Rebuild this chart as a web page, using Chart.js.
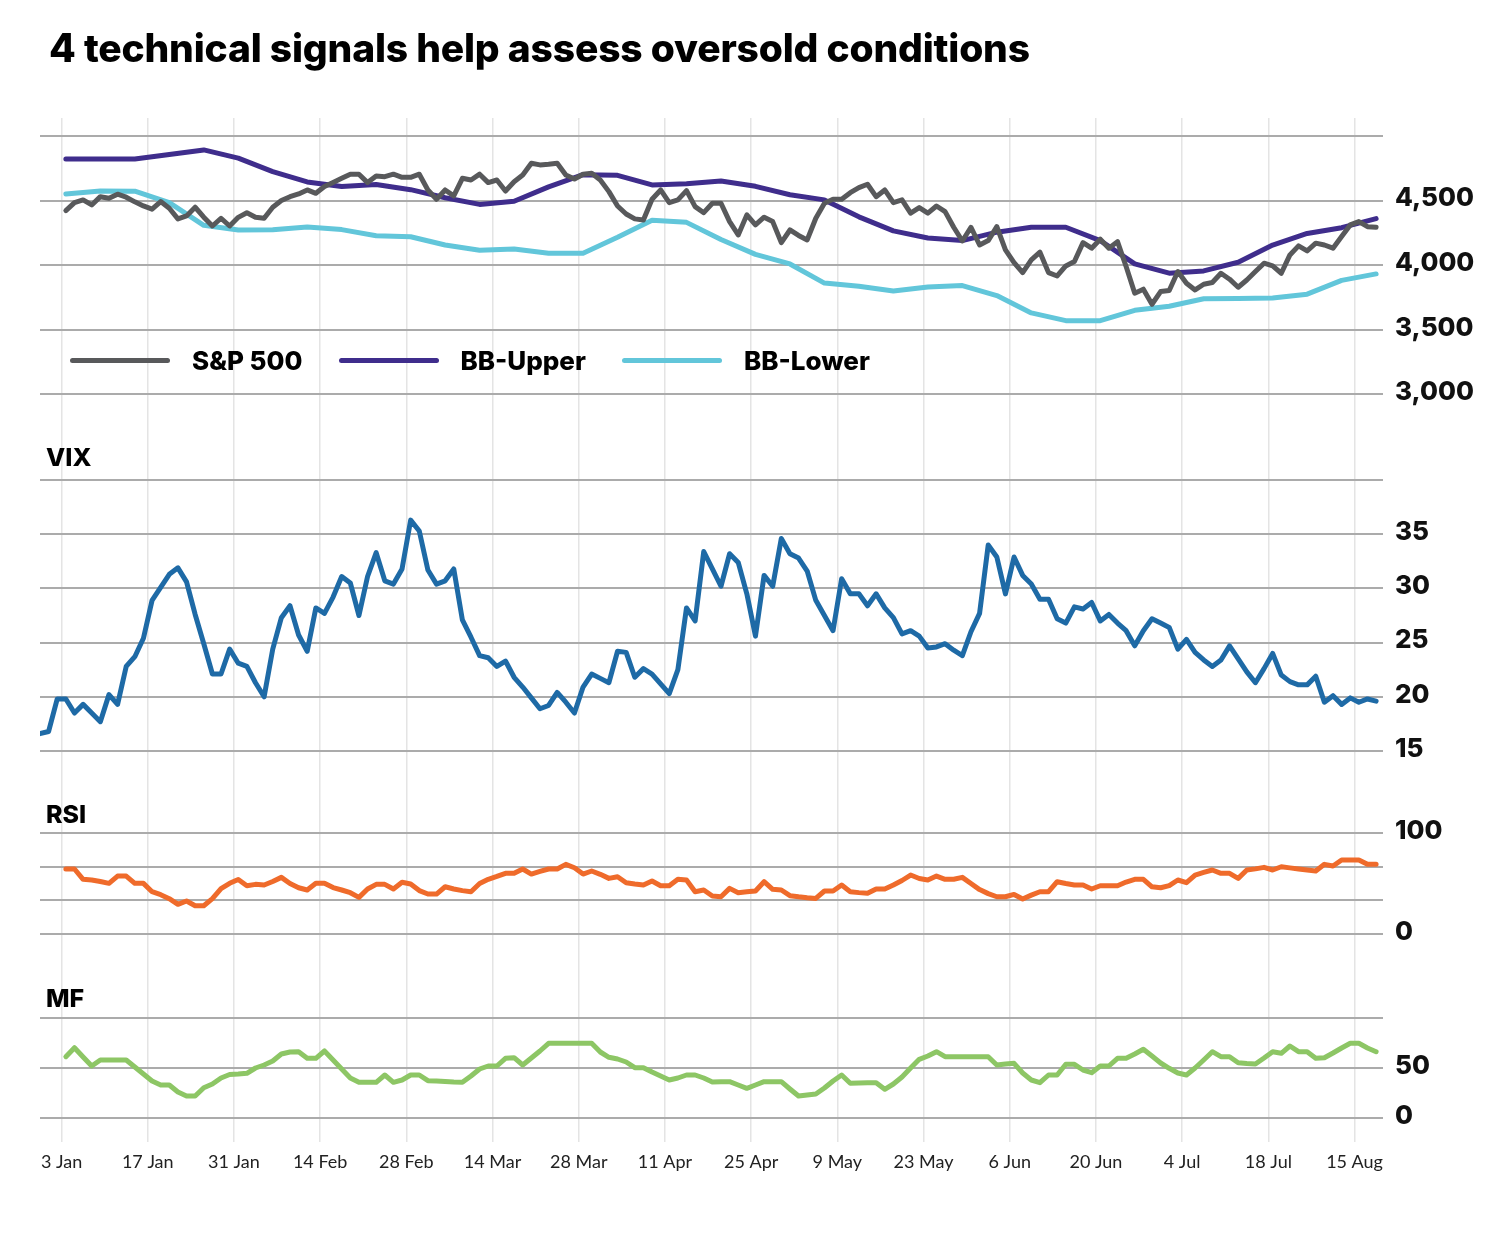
<!DOCTYPE html>
<html>
<head>
<meta charset="utf-8">
<title>4 technical signals help assess oversold conditions</title>
<script src="https://cdn.jsdelivr.net/npm/chart.js@4.4.1/dist/chart.umd.min.js"></script>
<style>
  body { margin: 0; background: #fff; }
  #wrap { position: relative; width: 1500px; height: 1234px; font-family: Inter, Lato, sans-serif; color: #000; }
  #chart { position: absolute; left: 0; top: 0; }
  h1 { position: absolute; left: 49px; top: 28px; margin: 0; font-size: 39px; line-height: 39px; font-weight: 800; white-space: nowrap; letter-spacing: -0.2px; }
  .panel-name { position: absolute; left: 46px; font-size: 25px; line-height: 25px; font-weight: 800; }
  #legend { position: absolute; left: 70px; top: 347px; display: flex; align-items: center; height: 27px; }
  #legend .item { display: flex; align-items: center; margin-right: 36px; }
  #legend .swatch { width: 100px; height: 5px; border-radius: 3px; margin-right: 22px; }
  #legend .label { font-size: 26px; line-height: 27px; font-weight: 800; }
</style>
</head>
<body>
<div id="wrap">
  <canvas id="chart" width="1500" height="1234"></canvas>
  <h1>4 technical signals help assess oversold conditions</h1>
  <div class="panel-name" style="top:445px">VIX</div>
  <div class="panel-name" style="top:802px">RSI</div>
  <div class="panel-name" style="top:986px">MF</div>
  <div id="legend"></div>
</div>
<script>
// x axis is counted in trading days; day 0 is the first VIX reading
const tickLabels = ['3 Jan', '17 Jan', '31 Jan', '14 Feb', '28 Feb', '14 Mar', '28 Mar', '11 Apr',
  '25 Apr', '9 May', '23 May', '6 Jun', '20 Jun', '4 Jul', '18 Jul', '15 Aug'];
const firstTickDay = 2.5;
const tickEvery = 10;
const lastDay = 155.8;

// S&P 500 close, daily from day 3
const spxStart = 3;
const spx = [
  4422, 4484, 4505, 4466, 4530, 4518, 4549, 4526, 4490, 4458,
  4433, 4492, 4440, 4358, 4381, 4448, 4371, 4303, 4363, 4303,
  4370, 4406, 4371, 4363, 4448, 4500, 4530, 4551, 4582, 4556,
  4608, 4640, 4672, 4704, 4704, 4639, 4690, 4685, 4704, 4680,
  4680, 4704, 4582, 4510, 4582, 4536, 4672, 4659, 4704, 4639,
  4659, 4574, 4646, 4698, 4789, 4776, 4781, 4789, 4698, 4667,
  4704, 4711, 4659, 4569, 4458, 4396, 4358, 4350, 4510, 4582,
  4484, 4505, 4577, 4453, 4406, 4479, 4479, 4337, 4234, 4389,
  4311, 4371, 4337, 4174, 4272, 4230, 4195, 4363, 4479, 4510,
  4510, 4561, 4600, 4626, 4530, 4582, 4484, 4505, 4402, 4445,
  4402, 4458, 4414, 4293, 4187, 4293, 4156, 4190, 4298, 4118,
  4020, 3942, 4040, 4100, 3942, 3916, 3994, 4028, 4174, 4131,
  4201, 4131, 4182, 3989, 3783, 3814, 3697, 3795, 3803, 3950,
  3860, 3808, 3852, 3865, 3937, 3891, 3829, 3885, 3950, 4015,
  3994, 3937, 4079, 4149, 4110, 4170, 4156, 4131, 4221, 4311,
  4337, 4298, 4293
];

// Bollinger bands, every 4th day from day 3
const bandStart = 3;
const bandStep = 4;
const bbUpper = [
  4822, 4822, 4822, 4857, 4892, 4828, 4724, 4644, 4608, 4624,
  4584, 4522, 4470, 4494, 4606, 4700, 4695, 4621, 4630, 4652,
  4610, 4545, 4505, 4374, 4265, 4210, 4190, 4255, 4293, 4293,
  4190, 4010, 3938, 3955, 4022, 4155, 4245, 4290, 4360
];
const bbLower = [
  4551, 4574, 4572, 4484, 4308, 4272, 4274, 4296, 4275, 4228,
  4220, 4156, 4115, 4125, 4092, 4092, 4215, 4348, 4331, 4198,
  4083, 4009, 3861, 3836, 3800, 3830, 3842, 3764, 3630, 3570,
  3570, 3650, 3682, 3740, 3742, 3746, 3775, 3882, 3932
];

// VIX, daily from day 0
const vixStart = 0;
const vix = [
  16.6, 16.8, 19.8, 19.8, 18.5, 19.3, 18.5, 17.7, 20.2, 19.3,
  22.8, 23.7, 25.4, 28.9, 30.1, 31.3, 31.9, 30.6, 27.6, 24.9,
  22.1, 22.1, 24.4, 23.1, 22.8, 21.3, 20.0, 24.4, 27.3, 28.4,
  25.7, 24.2, 28.2, 27.7, 29.2, 31.1, 30.5, 27.5, 31.1, 33.3,
  30.7, 30.4, 31.8, 36.3, 35.3, 31.7, 30.4, 30.7, 31.8, 27.1,
  25.5, 23.8, 23.6, 22.8, 23.3, 21.8, 20.9, 19.9, 18.9, 19.2,
  20.4, 19.5, 18.5, 20.9, 22.1, 21.7, 21.3, 24.2, 24.1, 21.8,
  22.6, 22.1, 21.2, 20.3, 22.5, 28.2, 27.0, 33.4, 31.8, 30.2,
  33.2, 32.4, 29.5, 25.6, 31.2, 30.2, 34.6, 33.2, 32.8, 31.6,
  28.9, 27.5, 26.1, 30.9, 29.5, 29.5, 28.4, 29.5, 28.2, 27.3,
  25.8, 26.1, 25.6, 24.5, 24.6, 24.9, 24.3, 23.8, 26.0, 27.7,
  34.0, 32.9, 29.5, 32.9, 31.2, 30.4, 29.0, 29.0, 27.2, 26.8,
  28.3, 28.1, 28.7, 27.0, 27.6, 26.8, 26.1, 24.7, 26.1, 27.2,
  26.8, 26.4, 24.4, 25.3, 24.1, 23.4, 22.8, 23.4, 24.7, 23.5,
  22.3, 21.3, 22.6, 24.0, 22.0, 21.4, 21.1, 21.1, 21.9, 19.5,
  20.1, 19.3, 19.9, 19.5, 19.8, 19.6
];

// RSI, daily from day 3
const rsiStart = 3;
const rsi = [
  64.4, 64.4, 54.2, 53.5, 52.0, 50.2, 57.4, 57.4, 50.2, 50.2,
  41.9, 39.0, 35.0, 29.4, 32.7, 28.0, 28.0, 35.0, 45.0, 50.2,
  54.0, 47.8, 49.2, 48.5, 52.0, 56.1, 50.0, 45.8, 43.6, 50.2,
  50.2, 46.0, 43.6, 40.9, 36.3, 44.6, 49.2, 49.2, 44.6, 51.2,
  49.5, 43.0, 39.6, 39.6, 46.8, 44.6, 43.0, 41.9, 50.0, 54.2,
  57.0, 60.1, 60.1, 64.4, 59.4, 62.0, 64.4, 64.4, 69.0, 65.6,
  59.4, 62.4, 59.1, 55.1, 56.7, 50.8, 49.5, 48.5, 52.5, 47.8,
  47.8, 54.2, 53.5, 41.9, 43.6, 37.7, 36.9, 45.2, 40.9, 41.8,
  42.6, 51.8, 44.3, 43.6, 38.0, 36.9, 36.0, 35.3, 42.6, 42.6,
  48.5, 41.9, 41.0, 40.3, 44.6, 44.6, 48.5, 53.0, 58.4, 55.0,
  53.5, 57.4, 54.2, 54.2, 56.1, 50.0, 44.0, 40.0, 36.9, 36.9,
  39.2, 34.7, 38.5, 41.9, 41.9, 51.8, 50.0, 48.5, 48.5, 44.6,
  47.8, 47.8, 47.8, 51.5, 54.2, 54.2, 46.8, 45.8, 48.0, 53.5,
  50.8, 58.4, 61.0, 63.4, 60.1, 60.1, 55.1, 63.4, 64.5, 66.0,
  63.4, 66.6, 65.5, 64.4, 63.4, 62.4, 69.0, 67.3, 73.3, 73.3,
  73.3, 69.0, 69.0
];

// Money flow, daily from day 3
const mfStart = 3;
const mf = [
  61.3, 70.3, 61.0, 52.0, 58.0, 58.0, 58.0, 58.0, 51.0, 44.0,
  37.0, 33.0, 33.0, 26.0, 22.0, 22.0, 30.3, 34.0, 40.0, 43.5,
  44.0, 44.7, 50.0, 53.0, 57.0, 64.0, 66.0, 66.3, 59.7, 59.7,
  67.0, 58.0, 49.0, 40.0, 35.7, 35.7, 35.7, 43.0, 35.7, 38.0,
  43.0, 43.0, 37.3, 37.0, 36.5, 36.0, 35.7, 42.0, 49.0, 52.0,
  52.0, 59.7, 60.3, 53.0, 60.0, 67.0, 74.7, 74.7, 74.7, 74.7,
  74.7, 74.7, 66.0, 60.7, 59.0, 56.0, 50.3, 50.3, 46.0, 42.0,
  38.0, 40.0, 43.0, 43.0, 40.0, 36.0, 36.3, 36.3, 33.0, 29.7,
  33.0, 36.3, 36.3, 36.3, 29.0, 22.0, 23.0, 24.0, 30.0, 37.0,
  43.0, 34.7, 35.0, 35.2, 35.3, 28.7, 34.0, 41.0, 50.0, 58.7,
  62.0, 66.3, 61.3, 61.3, 61.3, 61.3, 61.3, 61.3, 53.0, 54.0,
  54.7, 45.0, 38.0, 35.3, 43.0, 43.0, 53.7, 53.7, 48.0, 45.3,
  52.0, 52.0, 59.7, 59.7, 64.0, 68.7, 62.0, 55.0, 49.7, 45.0,
  43.0, 50.0, 58.0, 66.3, 61.3, 61.3, 55.3, 54.5, 54.0, 60.0,
  66.3, 64.7, 72.0, 66.3, 66.3, 59.7, 60.3, 65.0, 70.0, 74.7,
  74.7, 70.0, 66.3
];

// y-axis grid values and which of them carry a label
const spxTicks = [3000, 3500, 4000, 4500, 5000];
const spxShown = [3000, 3500, 4000, 4500];
const vixTicks = [15, 20, 25, 30, 35, 40];
const vixShown = [15, 20, 25, 30, 35];
const rsiTicks = [0, 100 / 3, 200 / 3, 100];
const rsiShown = [0, 100];
const mfTicks = [0, 50, 100];
const mfShown = [0, 50];

const points = (start, step, values) => values.map((v, i) => ({ x: start + i * step, y: v }));

function line(label, color, axis, data) {
  return {
    label, data, yAxisID: axis,
    borderColor: color, backgroundColor: color,
    borderWidth: 5, pointRadius: 0, tension: 0,
    borderJoinStyle: 'round', borderCapStyle: 'round'
  };
}

function panelAxis(weight, min, max, tickValues, shown) {
  return {
    type: 'linear', position: 'right', stack: 'panels', stackWeight: weight,
    min, max,
    afterBuildTicks: s => { s.ticks = tickValues.map(v => ({ value: v })); },
    afterFit: s => { s.width = 117; },
    grid: { color: '#ababab', lineWidth: 2, drawTicks: false },
    border: { display: false },
    ticks: {
      autoSkip: false, padding: 12, labelOffset: -2, color: '#111',
      font: { family: 'Inter', size: 26, weight: 800 },
      callback: v => shown.includes(v) ? v.toLocaleString('en-US') : ''
    }
  };
}

Chart.defaults.font.family = 'Lato';

const chart = new Chart(document.getElementById('chart'), {
  type: 'line',
  data: {
    datasets: [
      line('S&P 500', '#58595b', 'ySpx', points(spxStart, 1, spx)),
      line('BB-Upper', '#3f2d8c', 'ySpx', points(bandStart, bandStep, bbUpper)),
      line('BB-Lower', '#62c6da', 'ySpx', points(bandStart, bandStep, bbLower)),
      line('VIX', '#1e6aa6', 'yVix', points(vixStart, 1, vix)),
      line('RSI', '#ef6b2b', 'yRsi', points(rsiStart, 1, rsi)),
      line('MF', '#8dc665', 'yMf', points(mfStart, 1, mf))
    ]
  },
  options: {
    responsive: false,
    animation: false,
    layout: { padding: { left: 40, top: 118, right: 0, bottom: 0 } },
    plugins: { legend: { display: false }, tooltip: { enabled: false } },
    scales: {
      x: {
        type: 'linear', min: 0, max: lastDay,
        afterBuildTicks: s => { s.ticks = tickLabels.map((_, i) => ({ value: firstTickDay + i * tickEvery })); },
        afterFit: s => { s.height = 92; },
        grid: { color: '#e4e4e4', lineWidth: 1.5, drawTicks: false },
        border: { display: false },
        ticks: {
          padding: 9, maxRotation: 0, autoSkip: false, color: '#222',
          font: { family: 'Lato', size: 18 },
          callback: (v, i) => tickLabels[i]
        }
      },
      ySpx: panelAxis(302, 2801, 5139, spxTicks, spxShown),
      yVix: panelAxis(370, 11.4, 45.54, vixTicks, vixShown),
      yRsi: panelAxis(170, -25.7, 142.6, rsiTicks, rsiShown),
      yMf: panelAxis(182, -24, 158, mfTicks, mfShown)
    }
  }
});

// legend for the top panel, built from its datasets
const legend = document.getElementById('legend');
chart.data.datasets.filter(d => d.yAxisID === 'ySpx').forEach(d => {
  const item = document.createElement('div');
  item.className = 'item';
  const swatch = document.createElement('span');
  swatch.className = 'swatch';
  swatch.style.background = d.borderColor;
  const label = document.createElement('span');
  label.className = 'label';
  label.textContent = d.label;
  item.append(swatch, label);
  legend.append(item);
});
</script>
</body>
</html>
